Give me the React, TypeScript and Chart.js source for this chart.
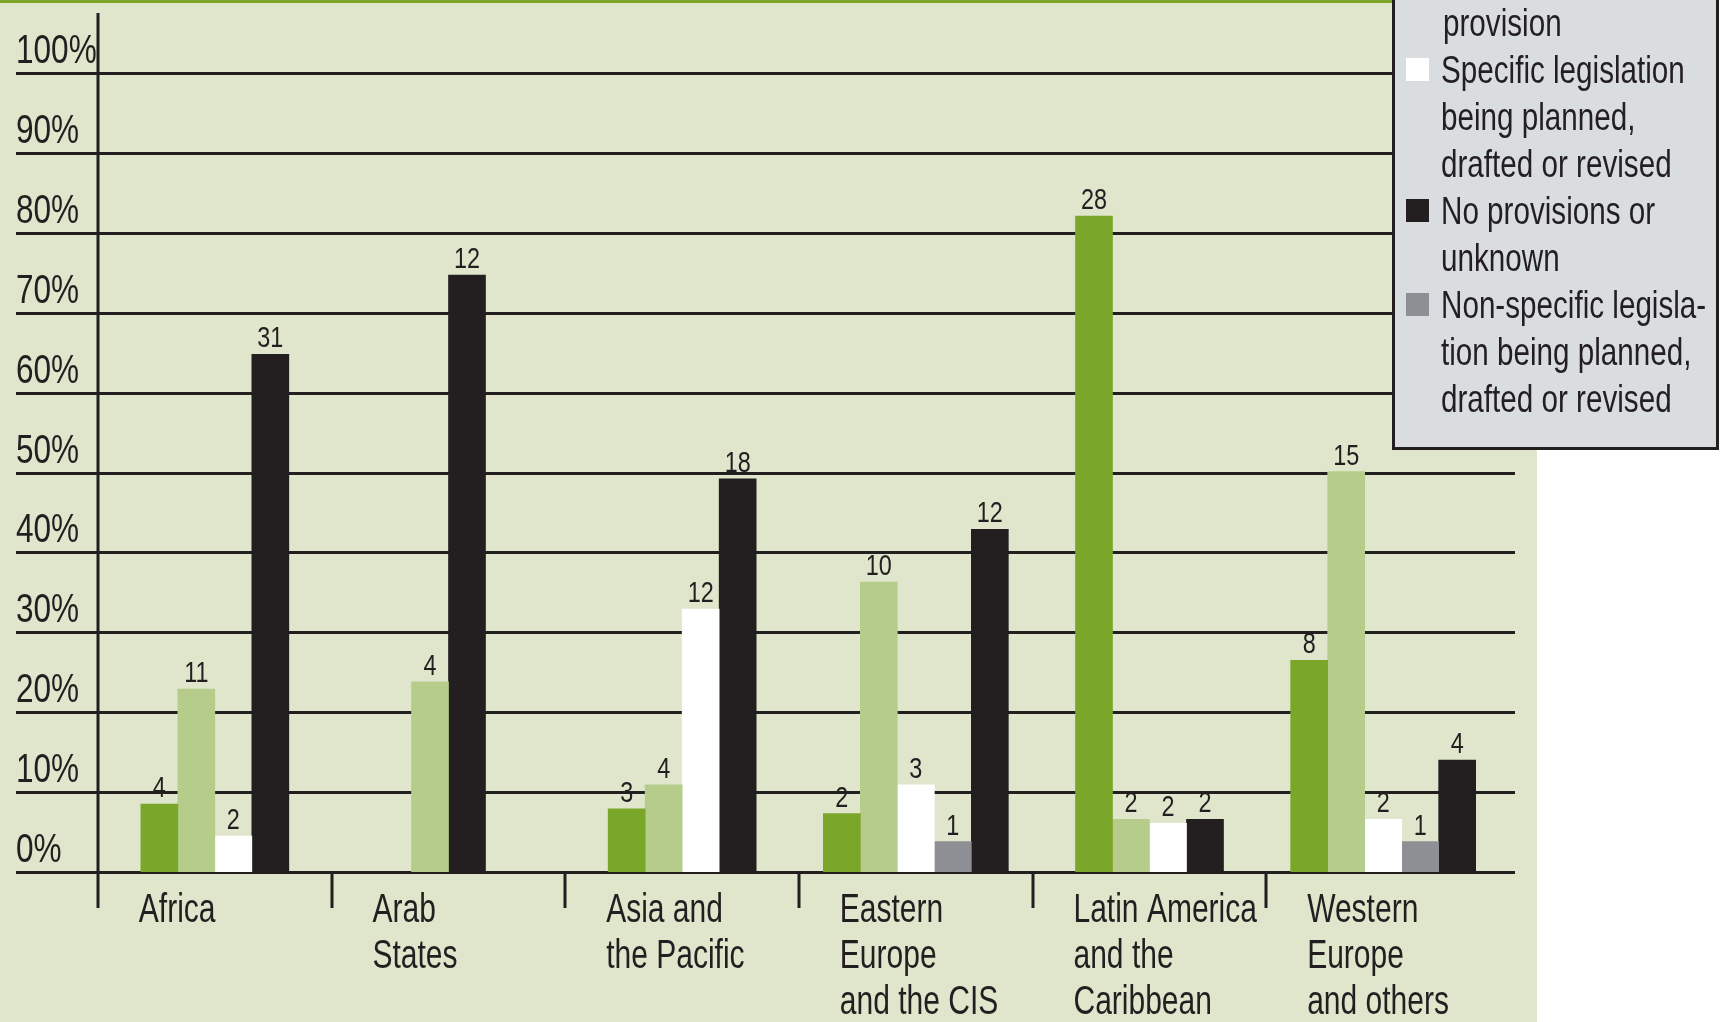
import { useEffect, useRef } from "react";
import { Chart, registerables } from "chart.js";

Chart.register(...registerables);

// ---------- data ----------
const categories: string[][] = [
  ["Africa"],
  ["Arab", "States"],
  ["Asia and", "the Pacific"],
  ["Eastern", "Europe", "and the CIS"],
  ["Latin America", "and the", "Caribbean"],
  ["Western", "Europe", "and others"],
];

const seriesNames = [
  "Specific legislation or provision",
  "Non-specific legislation or provision",
  "Specific legislation being planned, drafted or revised",
  "Non-specific legislation being planned, drafted or revised",
  "No provisions or unknown",
];

// share of countries (%)
const specificProvisionPct = [8.5, null, 7.9, 7.3, 82.1, 26.5];
const nonSpecificProvisionPct = [22.9, 23.8, 10.9, 36.3, 6.6, 50.1];
const specificPlannedPct = [4.5, null, 32.9, 10.9, 6.1, 6.6];
const nonSpecificPlannedPct = [null, null, null, 3.8, null, 3.8];
const noProvisionPct = [64.8, 74.7, 49.2, 42.9, 6.6, 14.0];

// number of countries printed above bars
const specificProvisionCount = [4, null, 3, 2, 28, 8];
const nonSpecificProvisionCount = [11, 4, 4, 10, 2, 15];
const specificPlannedCount = [2, null, 12, 3, 2, 2];
const nonSpecificPlannedCount = [null, null, null, 1, null, 1];
const noProvisionCount = [31, 12, 18, 12, 2, 4];

const yTickValues = [0, 10, 20, 30, 40, 50, 60, 70, 80, 90, 100];

// legend (top of box is cut off in the original)
const legendContinuation = ["provision"];
const legendSeriesOrder = [2, 4, 3];
const legendWrappedLines = [
  ["Specific legislation", "being planned,", "drafted or revised"],
  ["No provisions or", "unknown"],
  ["Non-specific legisla-", "tion being planned,", "drafted or revised"],
];

// ---------- styles ----------
const COLORS = ["#7aa62a", "#b6cc8a", "#ffffff", "#8e8f94", "#231f20"];
const INK = "#231f20";
const BG = "#dfe6cc";
const FAMILY = "'Liberation Sans', Arial, sans-serif";

const seriesPct = [
  specificProvisionPct,
  nonSpecificProvisionPct,
  specificPlannedPct,
  nonSpecificPlannedPct,
  noProvisionPct,
];
const seriesCount = [
  specificProvisionCount,
  nonSpecificProvisionCount,
  specificPlannedCount,
  nonSpecificPlannedCount,
  noProvisionCount,
];

// condensed text: draw with a horizontal squeeze
function condText(ctx: CanvasRenderingContext2D, text: string, x: number, y: number, size: number, sx: number, align: CanvasTextAlign) {
  ctx.save();
  ctx.font = `${size}px ${FAMILY}`;
  ctx.fillStyle = INK;
  ctx.textBaseline = "alphabetic";
  ctx.textAlign = align;
  ctx.translate(x, y);
  ctx.scale(sx, 1);
  ctx.fillText(text, 0, 0);
  ctx.restore();
}

const decorPlugin = {
  id: "decor",
  beforeDraw(chart: any) {
    const ctx = chart.ctx;
    ctx.save();
    ctx.fillStyle = "#ffffff";
    ctx.fillRect(0, 0, chart.width, chart.height);
    ctx.fillStyle = BG;
    ctx.fillRect(0, 0, 1537, chart.height);
    ctx.fillStyle = "#7ba428";
    ctx.fillRect(0, 0, 1392, 3);
    ctx.restore();
  },
  beforeDatasetsDraw(chart: any) {
    const ctx = chart.ctx;
    const y = chart.scales.y;
    const x = chart.scales.x;
    const area = chart.chartArea;
    ctx.save();
    ctx.strokeStyle = INK;
    ctx.lineWidth = 3;
    yTickValues.forEach((v) => {
      const py = Math.round(y.getPixelForValue(v)) + 0.5;
      ctx.beginPath();
      ctx.moveTo(16, py);
      ctx.lineTo(1515, py);
      ctx.stroke();
    });
    // y axis line
    ctx.beginPath();
    ctx.moveTo(area.left, 13);
    ctx.lineTo(area.left, area.bottom + 36);
    ctx.stroke();
    // category separators
    for (let i = 1; i < categories.length; i++) {
      const px = Math.round((x.getPixelForTick(i - 1) + x.getPixelForTick(i)) / 2);
      ctx.beginPath();
      ctx.moveTo(px, area.bottom);
      ctx.lineTo(px, area.bottom + 36);
      ctx.stroke();
    }
    ctx.restore();

    // y tick labels
    yTickValues.forEach((v) => {
      const py = y.getPixelForValue(v);
      condText(ctx, `${v}%`, 16, py - 10, 41, 0.77, "left");
    });
    // x category labels
    categories.forEach((lines, i) => {
      const px = x.getPixelForTick(i) - 76;
      lines.forEach((t, k) => {
        condText(ctx, t, px, area.bottom + 50 + k * 46, 40, 0.75, "left");
      });
    });
  },
  afterDatasetsDraw(chart: any) {
    const ctx = chart.ctx;
    chart.data.datasets.forEach((ds: any, di: number) => {
      const meta = chart.getDatasetMeta(di);
      meta.data.forEach((el: any, i: number) => {
        const c = seriesCount[di][i];
        if (ds.data[i] == null || c == null) return;
        condText(ctx, String(c), el.x, el.y - 7, 30, 0.78, "center");
      });
    });
  },
  afterDraw(chart: any) {
    const ctx = chart.ctx;
    ctx.save();
    ctx.fillStyle = "#d9dde0";
    ctx.fillRect(1392, 0, 327, 450);
    ctx.strokeStyle = INK;
    ctx.lineWidth = 3;
    ctx.strokeRect(1393.5, -5, 324, 453.5);
    ctx.restore();
    const lineH = 47;
    let ly = 22;
    legendContinuation.forEach((t) => {
      condText(ctx, t, 1443, ly + 14, 39, 0.76, "left");
      ly += lineH;
    });
    legendSeriesOrder.forEach((si, k) => {
      ctx.save();
      ctx.fillStyle = COLORS[si];
      ctx.fillRect(1406, ly - 11, 23, 23);
      ctx.restore();
      legendWrappedLines[k].forEach((t) => {
        condText(ctx, t, 1441, ly + 14, 39, 0.76, "left");
        ly += lineH;
      });
    });
  },
};

export default function App() {
  const ref = useRef<HTMLCanvasElement | null>(null);
  useEffect(() => {
    if (!ref.current) return;
    const chart = new Chart(ref.current, {
      type: "bar",
      data: {
        labels: categories,
        datasets: seriesNames.map((name, i) => ({
          label: name,
          data: seriesPct[i],
          backgroundColor: COLORS[i],
          borderWidth: 0,
          barThickness: 37,
          skipNull: true,
        })),
      },
      options: {
        animation: false,
        responsive: false,
        layout: { padding: { top: 73, left: 16, right: 225, bottom: 0 } },
        plugins: { legend: { display: false }, tooltip: { enabled: false } },
        scales: {
          x: {
            offset: true,
            grid: { display: false, drawTicks: false },
            border: { display: false },
            ticks: { display: false, autoSkip: false },
            afterFit: (s: any) => {
              s.height = 150;
            },
          },
          y: {
            min: 0,
            max: 100,
            grid: { display: false, drawTicks: false },
            border: { display: false },
            ticks: { display: false, stepSize: 10 },
            afterFit: (s: any) => {
              s.width = 82;
            },
          },
        },
      },
      plugins: [decorPlugin],
    } as any);
    return () => chart.destroy();
  }, []);
  return (
    <div style={{ position: "fixed", left: 0, top: 0, width: 1725, height: 1022 }}>
      <canvas ref={ref} width={1725} height={1022} style={{ display: "block" }} />
    </div>
  );
}
